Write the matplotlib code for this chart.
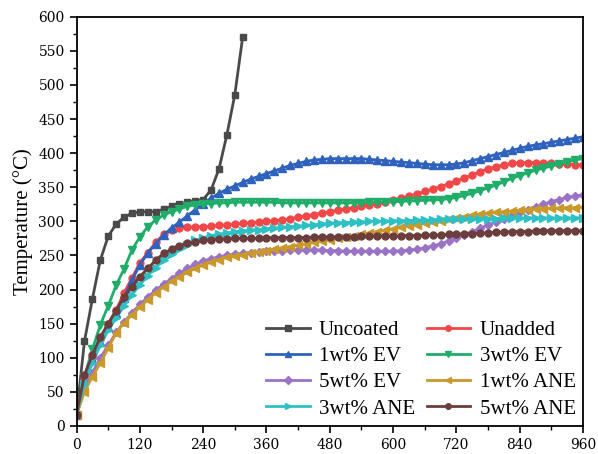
import numpy as np
import matplotlib.pyplot as plt
from matplotlib.ticker import MultipleLocator

plt.rcParams['font.family'] = ['Liberation Serif', 'DejaVu Serif']

# time axis, sampled every 15 s
t = np.arange(0, 975, 15)
t_uncoated = np.arange(0, 330, 15)

uncoated = [16, 124, 186, 243, 278, 296, 306, 312, 314, 314, 314, 318, 322, 325,
            328, 330, 332, 346, 377, 427, 486, 571]

unadded = [16, 70, 100, 128, 150, 170, 195, 217, 239, 254, 269, 281, 287, 290, 291,
           292, 292, 293, 294, 295, 296, 297, 298, 299, 300, 301, 302, 304, 306, 308,
           310, 312, 314, 316, 318, 320, 322, 324, 326, 328, 331, 334, 337, 340, 344,
           347, 351, 355, 359, 364, 368, 373, 377, 380, 383, 385, 386, 386, 386, 386,
           385, 384, 384, 383, 383]

ev1 = [16, 68, 97, 123, 145, 165, 187, 214, 236, 254, 267, 280, 290, 299, 308,
       317, 326, 334, 341, 347, 352, 357, 362, 366, 370, 374, 378, 382, 385, 388,
       390, 391, 392, 392, 392, 392, 392, 391, 390, 389, 388, 387, 386, 385, 384,
       383, 383, 383, 384, 386, 389, 392, 395, 398, 401, 404, 407, 410, 412, 414,
       416, 418, 420, 422, 424]

ev3 = [16, 72, 112, 148, 176, 206, 230, 258, 277, 292, 302, 309, 314, 318, 322,
       324, 325, 326, 327, 327, 328, 328, 328, 328, 328, 328, 327, 327, 327, 327,
       327, 327, 327, 327, 327, 327, 327, 328, 328, 328, 329, 329, 330, 330, 331,
       331, 332, 333, 335, 338, 341, 345, 349, 353, 358, 363, 367, 371, 375, 378,
       381, 384, 387, 390, 392]

ev5 = [16, 55, 78, 100, 118, 137, 152, 166, 178, 189, 199, 208, 216, 224, 231,
       237, 242, 245, 248, 250, 252, 253, 254, 255, 256, 257, 257, 258, 258, 258,
       258, 258, 257, 257, 256, 256, 256, 256, 256, 256, 256, 257, 258, 259, 261,
       264, 267, 271, 275, 280, 285, 290, 295, 299, 304, 309, 313, 317, 321, 325,
       329, 332, 335, 337, 339]

ane1 = [16, 50, 72, 92, 114, 136, 151, 163, 174, 185, 195, 204, 212, 219, 225,
        231, 236, 240, 244, 247, 249, 251, 253, 255, 257, 259, 261, 263, 265, 267,
        269, 271, 273, 275, 277, 279, 281, 283, 285, 287, 289, 291, 293, 295, 297,
        299, 301, 303, 305, 307, 309, 311, 312, 313, 314, 315, 316, 317, 318, 318,
        319, 319, 320, 320, 321]

ane3 = [16, 62, 92, 118, 140, 158, 176, 192, 207, 220, 232, 243, 252, 259, 265,
        272, 276, 279, 281, 283, 285, 286, 287, 288, 289, 290, 291, 292, 293, 294,
        295, 296, 297, 298, 298, 299, 299, 300, 300, 300, 301, 301, 301, 302, 302,
        302, 303, 303, 303, 303, 304, 304, 304, 304, 305, 305, 305, 305, 305, 305,
        305, 305, 305, 305, 305]

ane5 = [16, 75, 104, 130, 150, 169, 189, 204, 219, 231, 243, 253, 259, 264, 268,
        270, 272, 273, 274, 274, 275, 275, 275, 275, 276, 276, 276, 276, 276, 276,
        277, 277, 277, 277, 277, 277, 278, 278, 278, 278, 278, 279, 279, 279, 280,
        280, 280, 281, 281, 282, 282, 283, 283, 284, 284, 285, 285, 285, 286, 286,
        286, 286, 286, 286, 286]

fig, ax = plt.subplots(figsize=(5.98, 4.54), dpi=100)
fig.subplots_adjust(left=0.128, right=0.975, bottom=0.062, top=0.963)

ms = 5
l0, = ax.plot(t_uncoated, uncoated, color='#4a4a4a', marker='s', ms=ms, lw=2, label='Uncoated')
l1, = ax.plot(t, unadded, color='#f04848', marker='o', ms=ms, lw=2, label='Unadded')
l2, = ax.plot(t, ev1, color='#2f62bd', marker='^', ms=ms + 1, lw=2, label='1wt% EV')
l3, = ax.plot(t, ev3, color='#20ad6a', marker='v', ms=ms + 1, lw=2, label='3wt% EV')
l4, = ax.plot(t, ev5, color='#9a72c6', marker='D', ms=ms - 0.5, lw=2, label='5wt% EV')
l5, = ax.plot(t, ane1, color='#c9992c', marker='<', ms=ms + 1, lw=2, label='1wt% ANE')
l6, = ax.plot(t, ane3, color='#2fc0c4', marker='>', ms=ms + 1, lw=2, label='3wt% ANE')
l7, = ax.plot(t, ane5, color='#6b3d3d', marker='o', ms=ms, lw=2, label='5wt% ANE')

ax.set_xlim(0, 960)
ax.set_ylim(0, 600)
ax.xaxis.set_major_locator(MultipleLocator(120))
ax.xaxis.set_minor_locator(MultipleLocator(60))
ax.yaxis.set_major_locator(MultipleLocator(50))
ax.yaxis.set_minor_locator(MultipleLocator(25))
ax.tick_params(which='major', direction='out', length=5, width=1.2, labelsize=10)
ax.tick_params(which='minor', direction='out', length=3, width=1)
for lab in ax.get_xticklabels() + ax.get_yticklabels():
    lab.set_family('DejaVu Serif')
for s in ax.spines.values():
    s.set_linewidth(1.3)

ax.set_ylabel('Temperature (°C)', fontsize=15, labelpad=4)

# row-wise order like the original
handles = [l0, l2, l4, l6, l1, l3, l5, l7]
ax.legend(handles, [h.get_label() for h in handles], ncol=2, loc='lower right',
          frameon=False, fontsize=15, handlelength=2.1, columnspacing=0.55,
          handletextpad=0.45, labelspacing=0.32, markerscale=0.8,
          borderaxespad=0.1, borderpad=0.25)

plt.savefig('out.png', dpi=100)
